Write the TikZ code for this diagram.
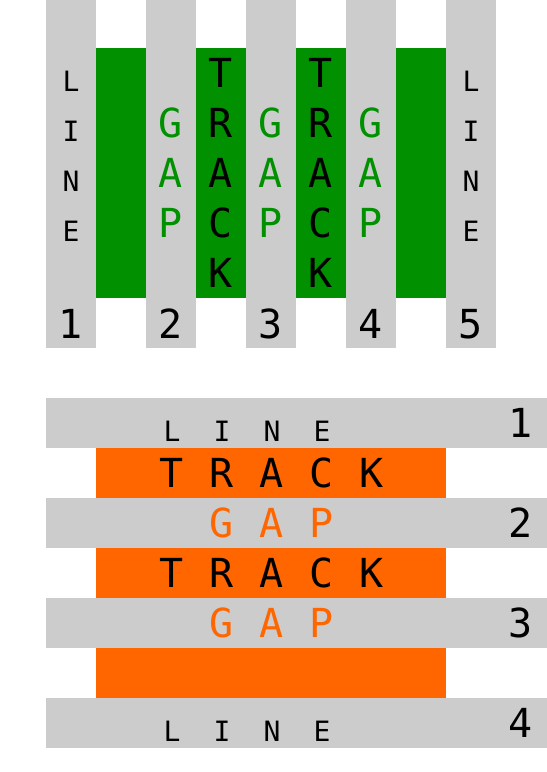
\documentclass[tikz,border=0pt]{standalone}
\usepackage{fontspec}
\setmonofont{DejaVu Sans Mono}
\definecolor{bargray}{HTML}{CCCCCC}
\definecolor{trackgreen}{RGB}{0,144,0}
\definecolor{trackorange}{HTML}{FF6600}
\tikzset{
  big/.style={anchor=base, inner sep=0pt, font=\ttfamily\fontsize{40bp}{40bp}\selectfont},
  small/.style={anchor=base, inner sep=0pt, font=\ttfamily\fontsize{28bp}{28bp}\selectfont},
  bar/.style={fill=bargray, draw=none},
}
\begin{document}
\begin{tikzpicture}[x=1bp, y=-1bp]
\useasboundingbox (0,0) rectangle (547,772);
% ---------- top part ----------
\foreach \x in {96,196,296,396}
  \fill[trackgreen] (\x,48) rectangle ++(50,250);
\foreach \x in {46,146,246,346,446}
  \fill[bar] (\x,0) rectangle ++(50,348);
% LINE columns
\foreach \cx/\c in {71/a,471/b}{
  \foreach \l [count=\i from 0] in {L,I,N,E}
    \node[small] (tl\c\i) at (\cx,91+50*\i) {\l};
}
% GAP columns
\foreach \cx/\c in {171/a,271/b,371/c}{
  \foreach \l [count=\i from 1] in {G,A,P}
    \node[big, text=trackgreen] (tg\c\i) at (\cx,87+50*\i) {\l};
}
% TRACK columns
\foreach \cx/\c in {221/a,321/b}{
  \foreach \l [count=\i from 0] in {T,R,A,C,K}
    \node[big] (tt\c\i) at (\cx,87+50*\i) {\l};
}
% numbers
\foreach \n [count=\i from 0] in {1,2,3,4,5}
  \node[big] (tn\n) at (71+100*\i,338) {\n};
% ---------- bottom part ----------
\foreach \y in {448,548,648}
  \fill[trackorange] (96,\y) rectangle ++(350,50);
\foreach \y in {398,498,598,698}
  \fill[bar] (46,\y) rectangle (547,\y+50);
% LINE rows
\foreach \by/\c in {441/a,741/b}{
  \foreach \l [count=\i from 0] in {L,I,N,E}
    \node[small] (bl\c\i) at (172+50*\i,\by) {\l};
}
% TRACK rows
\foreach \by/\c in {487/a,587/b}{
  \foreach \l [count=\i from 0] in {T,R,A,C,K}
    \node[big] (bt\c\i) at (172+50*\i,\by) {\l};
}
% GAP rows
\foreach \by/\c in {537/a,637/b}{
  \foreach \l [count=\i from 0] in {G,A,P}
    \node[big, text=trackorange] (bg\c\i) at (222+50*\i,\by) {\l};
}
% numbers
\foreach \n [count=\i from 0] in {1,2,3,4}
  \node[big] (bn\n) at (521,437+100*\i) {\n};
\end{tikzpicture}
\end{document}
